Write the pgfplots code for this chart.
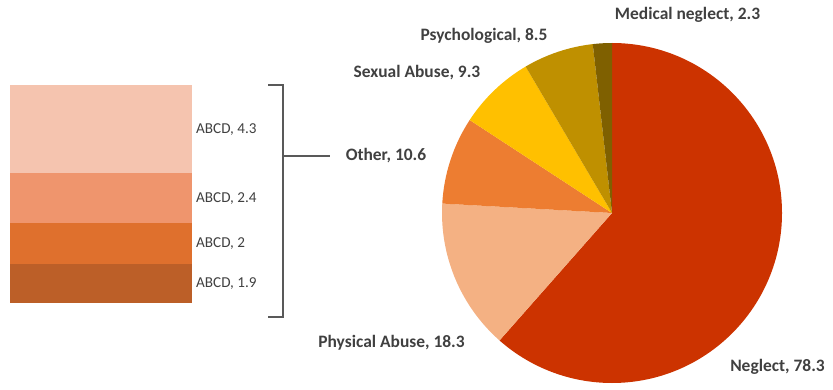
\documentclass[border=0pt]{standalone}
\usepackage{pgfplots}
\pgfplotsset{compat=1.18}
\usepackage{pgfplotstable}
\usepackage{fontspec}
\setmainfont{Carlito}

\definecolor{cNeg}{HTML}{CC3300}
\definecolor{cPhy}{HTML}{F4B183}
\definecolor{cOth}{HTML}{ED7D31}
\definecolor{cSex}{HTML}{FFC000}
\definecolor{cPsy}{HTML}{BF9000}
\definecolor{cMed}{HTML}{7F6000}
\definecolor{sA}{HTML}{F5C4AF}
\definecolor{sB}{HTML}{EF956D}
\definecolor{sC}{HTML}{DF702D}
\definecolor{sD}{HTML}{BC5F28}
\definecolor{txt}{HTML}{404040}
\definecolor{brk}{HTML}{595959}

% pie values (clockwise from 12 o'clock)
\def\vNeg{78.3}\def\vPhy{18.3}\def\vOth{10.6}\def\vSex{9.3}\def\vPsy{8.5}\def\vMed{2.3}
\pgfmathsetmacro\total{\vNeg+\vPhy+\vOth+\vSex+\vPsy+\vMed}
\def\cum{0}
\newcommand\pieslice[2]{%
  \pgfmathsetmacro\sa{90-\cum/\total*360}%
  \pgfmathsetmacro\ea{90-(\cum+#1)/\total*360}%
  \pgfmathsetmacro\newcum{\cum+#1}%
  \global\let\cum\newcum
  \edef\temp{\noexpand\fill[#2] (axis cs:612,177) -- ++(\sa:170bp) arc[start angle=\sa, end angle=\ea, radius=170bp] -- cycle;}%
  \temp}

\newcommand\lab{\fontsize{17.5}{20}\selectfont\bfseries\color{txt}}
\newcommand\slab{\fontsize{15.2}{18}\selectfont\color{txt}}

\begin{document}
\begin{tikzpicture}
\useasboundingbox (0,0) rectangle (833bp,390bp);
\begin{axis}[at={(0,0)}, anchor=south west, scale only axis,
  width=833bp, height=390bp, xmin=0, xmax=833, ymin=0, ymax=390,
  hide axis, clip=false]
  \pieslice{\vNeg}{cNeg}
  \pieslice{\vPhy}{cPhy}
  \pieslice{\vOth}{cOth}
  \pieslice{\vSex}{cSex}
  \pieslice{\vPsy}{cPsy}
  \pieslice{\vMed}{cMed}
  \node[anchor=center] at (axis cs:687.5,375) {\lab Medical neglect, 2.3};
  \node[anchor=center] at (axis cs:484,354) {\lab Psychological, 8.5};
  \node[anchor=center] at (axis cs:417,317) {\lab Sexual Abuse, 9.3};
  \node[anchor=center] at (axis cs:386,234) {\lab Other, 10.6};
  \node[anchor=center] at (axis cs:391.5,47) {\lab Physical Abuse, 18.3};
  \node[anchor=center] at (axis cs:777.5,23) {\lab Neglect, 78.3};
  \draw[brk, line width=1.1pt] (axis cs:268,305) -- (axis cs:283,305) -- (axis cs:283,73) -- (axis cs:268,73);
  \draw[brk, line width=1.1pt] (axis cs:283,234) -- (axis cs:330,234);
\end{axis}
\begin{axis}[at={(10bp,87bp)}, anchor=south west, scale only axis,
  width=182bp, height=218bp, xmin=-0.5, xmax=0.5, ymin=0, ymax=10.6,
  hide axis, clip=false, ybar stacked, bar width=182bp]
  \addplot[fill=sD, draw=none] coordinates {(0,1.9)};
  \addplot[fill=sC, draw=none] coordinates {(0,2)};
  \addplot[fill=sB, draw=none] coordinates {(0,2.4)};
  \addplot[fill=sA, draw=none] coordinates {(0,4.3)};
  \node[anchor=west, inner sep=0pt, xshift=4bp] at (axis cs:0.5,0.95) {\slab ABCD, 1.9};
  \node[anchor=west, inner sep=0pt, xshift=4bp] at (axis cs:0.5,2.9) {\slab ABCD, 2};
  \node[anchor=west, inner sep=0pt, xshift=4bp] at (axis cs:0.5,5.1) {\slab ABCD, 2.4};
  \node[anchor=west, inner sep=0pt, xshift=4bp] at (axis cs:0.5,8.45) {\slab ABCD, 4.3};
\end{axis}
\end{tikzpicture}
\end{document}
